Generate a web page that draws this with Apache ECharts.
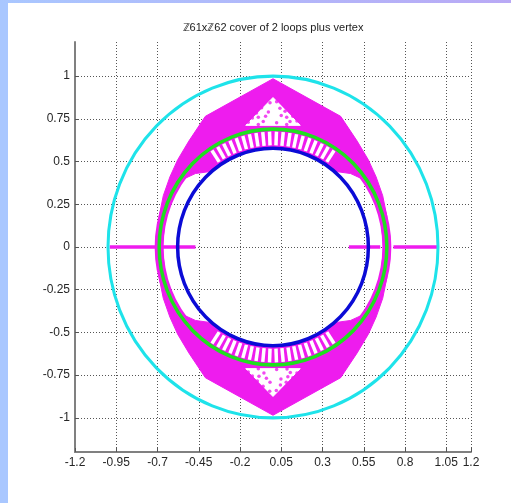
<!DOCTYPE html>
<html>
<head>
<meta charset="utf-8">
<script src="https://cdn.jsdelivr.net/npm/echarts@6/dist/echarts.min.js"></script>
<style>
  html, body { margin: 0; padding: 0; background: #fff; }
  #chart { width: 511px; height: 503px; }
</style>
</head>
<body>
<div id="chart"></div>
<script>
const xTicks = [-1.2, -0.95, -0.7, -0.45, -0.2, 0.05, 0.3, 0.55, 0.8, 1.05, 1.2];
const yTicks = [-1, -0.75, -0.5, -0.25, 0, 0.25, 0.5, 0.75, 1];

// circles as [cx, cy, r]
const cyanCircle = [0, 0, 1.0];
const greenCircle = [0, 0, 0.69];
const blueCircle = [0, 0, 0.578];

// magenta cloud outlines
const lobeTop = [
  [-0.705, 0.06], [-0.69, 0.18], [-0.665, 0.30], [-0.625, 0.41], [-0.578, 0.51], [-0.51, 0.62],
  [-0.41, 0.765], [0, 0.985], [0.41, 0.765], [0.51, 0.62], [0.578, 0.51], [0.625, 0.41],
  [0.665, 0.30], [0.69, 0.18], [0.705, 0.06],
  [0.665, 0.06], [0.65, 0.18], [0.615, 0.30], [0.56, 0.39], [0.47, 0.43], [0.372, 0.443], [0.289, 0.501],
  [0.198, 0.543], [0.100, 0.569], [0, 0.578], [-0.100, 0.569], [-0.198, 0.543], [-0.289, 0.501],
  [-0.372, 0.443], [-0.47, 0.43], [-0.56, 0.39], [-0.615, 0.30], [-0.65, 0.18], [-0.665, 0.06]
];
const lobeBottom = [
  [-0.705, -0.06], [-0.69, -0.18], [-0.665, -0.30], [-0.625, -0.41], [-0.578, -0.51], [-0.51, -0.62],
  [-0.41, -0.765], [0, -0.985], [0.41, -0.765], [0.51, -0.62], [0.578, -0.51], [0.625, -0.41],
  [0.665, -0.30], [0.69, -0.18], [0.705, -0.06],
  [0.665, -0.06], [0.65, -0.18], [0.615, -0.30], [0.56, -0.39], [0.47, -0.43], [0.372, -0.443], [0.289, -0.501],
  [0.198, -0.543], [0.100, -0.569], [0, -0.578], [-0.100, -0.569], [-0.198, -0.543], [-0.289, -0.501],
  [-0.372, -0.443], [-0.47, -0.43], [-0.56, -0.39], [-0.615, -0.30], [-0.65, -0.18], [-0.665, -0.06]
];
const holeTop = [[0, 0.875], [-0.165, 0.712], [0.165, 0.712]];
const holeBottom = [[0, -0.875], [-0.165, -0.712], [0.165, -0.712]];

// white gaps between the magenta spokes (x1, y1, x2, y2)
const spokeGaps = [
  [0.018, 0.595, 0.021, 0.675], [-0.018, 0.595, -0.021, 0.675],
  [0.054, 0.592, 0.062, 0.672], [-0.054, 0.592, -0.062, 0.672],
  [0.091, 0.588, 0.103, 0.667], [-0.091, 0.588, -0.103, 0.667],
  [0.126, 0.581, 0.143, 0.660], [-0.126, 0.581, -0.143, 0.660],
  [0.161, 0.573, 0.183, 0.650], [-0.161, 0.573, -0.183, 0.650],
  [0.196, 0.562, 0.223, 0.637], [-0.196, 0.562, -0.223, 0.637],
  [0.230, 0.549, 0.261, 0.622], [-0.230, 0.549, -0.261, 0.622],
  [0.263, 0.534, 0.299, 0.605], [-0.263, 0.534, -0.299, 0.605],
  [0.295, 0.517, 0.335, 0.586], [-0.295, 0.517, -0.335, 0.586],
  [0.326, 0.498, 0.370, 0.565], [-0.326, 0.498, -0.370, 0.565],
  [0.018, -0.595, 0.021, -0.675], [-0.018, -0.595, -0.021, -0.675],
  [0.054, -0.592, 0.062, -0.672], [-0.054, -0.592, -0.062, -0.672],
  [0.091, -0.588, 0.103, -0.667], [-0.091, -0.588, -0.103, -0.667],
  [0.126, -0.581, 0.143, -0.660], [-0.126, -0.581, -0.143, -0.660],
  [0.161, -0.573, 0.183, -0.650], [-0.161, -0.573, -0.183, -0.650],
  [0.196, -0.562, 0.223, -0.637], [-0.196, -0.562, -0.223, -0.637],
  [0.230, -0.549, 0.261, -0.622], [-0.230, -0.549, -0.261, -0.622],
  [0.263, -0.534, 0.299, -0.605], [-0.263, -0.534, -0.299, -0.605],
  [0.295, -0.517, 0.335, -0.586], [-0.295, -0.517, -0.335, -0.586],
  [0.326, -0.498, 0.370, -0.565], [-0.326, -0.498, -0.370, -0.565]
];

// isolated points inside the holes
const holeDots = [
  [-0.018, 0.845], [0.022, 0.850], [-0.069, 0.815], [0.042, 0.812], [0.073, 0.795], [-0.100, 0.785],
  [-0.028, 0.790], [-0.125, 0.755], [-0.089, 0.760], [0.083, 0.760], [0.120, 0.765], [-0.150, 0.730],
  [-0.059, 0.735], [0.022, 0.727], [0.103, 0.735], [0.145, 0.738], [-0.089, 0.717], [0.083, 0.717],
  [-0.045, 0.765], [0.050, 0.770],
  [-0.020, -0.845], [0.020, -0.840], [-0.060, -0.815], [0.045, -0.808], [0.080, -0.792], [-0.095, -0.785],
  [-0.018, -0.792], [-0.125, -0.755], [-0.085, -0.756], [0.090, -0.760], [0.120, -0.765], [-0.150, -0.732],
  [-0.055, -0.738], [0.022, -0.717], [0.105, -0.735], [0.145, -0.738], [-0.089, -0.712], [0.085, -0.714],
  [-0.040, -0.768], [0.048, -0.772]
];

// real-axis pieces of the cover
const realSegments = [
  [-0.99, 0, -0.47, 0],
  [0.46, 0, 0.65, 0],
  [0.73, 0, 1.0, 0]
];

const MAGENTA = '#ee1cee';

const chart = echarts.init(document.getElementById('chart'));

function ellipseSeries(data, color, width, z) {
  return {
    type: 'custom',
    z: z,
    data: [data],
    encode: { x: 0, y: 1 },
    renderItem: function (params, api) {
      const c = api.coord([api.value(0), api.value(1)]);
      const s = api.size([api.value(2), api.value(2)]);
      return {
        type: 'circle',
        x: c[0],
        y: c[1],
        scaleY: s[1] / s[0],
        shape: { cx: 0, cy: 0, r: s[0] },
        style: { fill: 'none', stroke: color, lineWidth: width }
      };
    }
  };
}

function polygonSeries(points, color, z) {
  return {
    type: 'custom',
    z: z,
    data: [points[0]],
    encode: { x: 0, y: 1 },
    renderItem: function (params, api) {
      return {
        type: 'polygon',
        shape: { points: points.map(function (p) { return api.coord(p); }) },
        style: { fill: color, stroke: color, lineWidth: 1 }
      };
    }
  };
}

function segmentSeries(data, color, width, z) {
  return {
    type: 'custom',
    z: z,
    data: data,
    encode: { x: [0, 2], y: [1, 3] },
    renderItem: function (params, api) {
      const a = api.coord([api.value(0), api.value(1)]);
      const b = api.coord([api.value(2), api.value(3)]);
      return {
        type: 'line',
        shape: { x1: a[0], y1: a[1], x2: b[0], y2: b[1] },
        style: { stroke: color, lineWidth: width }
      };
    }
  };
}

const labelFmt = function (v) { return String(+v.toFixed(2)); };

const axisCommon = {
  type: 'value',
  min: -1.2,
  max: 1.2,
  axisLine: { onZero: false, lineStyle: { color: '#808080', width: 2 } },
  splitLine: { show: true, lineStyle: { color: '#555', width: 1, type: [1, 2] } }
};

const options = {
  animation: false,
  backgroundColor: '#ffffff',
  graphic: [
    { type: 'rect', shape: { x: 0, y: 0, width: 8, height: 503 }, style: { fill: '#a9c7ff' } },
    {
      type: 'rect',
      shape: { x: 0, y: 0, width: 511, height: 3 },
      style: {
        fill: new echarts.graphic.LinearGradient(0, 0, 1, 0, [
          { offset: 0, color: '#a9c7ff' },
          { offset: 1, color: '#b9a9f5' }
        ])
      }
    },
    {
      type: 'text',
      x: 273,
      y: 28,
      style: {
        text: 'ℤ61xℤ62 cover of 2 loops plus vertex',
        textAlign: 'center',
        textVerticalAlign: 'middle',
        font: '11px "Liberation Sans", Arial, sans-serif',
        fill: '#222'
      }
    }
  ],
  grid: { left: 75, right: 40, top: 42, bottom: 51 },
  xAxis: Object.assign({}, axisCommon, {
    interval: 0.25,
    axisTick: { customValues: xTicks, inside: true, length: 4, lineStyle: { color: '#555' } },
    axisLabel: {
      customValues: xTicks,
      formatter: labelFmt,
      color: '#262626',
      fontSize: 12,
      fontFamily: '"Liberation Sans", Arial, sans-serif',
      margin: 5
    }
  }),
  yAxis: Object.assign({}, axisCommon, {
    axisTick: { customValues: yTicks, inside: true, length: 4, lineStyle: { color: '#555' } },
    axisLabel: {
      customValues: yTicks,
      formatter: labelFmt,
      color: '#262626',
      fontSize: 12,
      fontFamily: '"Liberation Sans", Arial, sans-serif',
      margin: 5
    }
  }),
  series: [
    ellipseSeries(greenCircle, MAGENTA, 9, 2),
    polygonSeries(lobeTop, MAGENTA, 3),
    polygonSeries(lobeBottom, MAGENTA, 3),
    polygonSeries(holeTop, '#ffffff', 4),
    polygonSeries(holeBottom, '#ffffff', 4),
    segmentSeries(spokeGaps, '#ffffff', 3.5, 5),
    {
      type: 'scatter',
      z: 6,
      data: holeDots,
      symbol: 'circle',
      symbolSize: 3.5,
      itemStyle: { color: MAGENTA }
    },
    segmentSeries(realSegments, MAGENTA, 3.5, 6),
    ellipseSeries(cyanCircle, '#1ee3ea', 3, 7),
    ellipseSeries(greenCircle, '#1fe01f', 3.5, 8),
    ellipseSeries(blueCircle, '#0b0bd6', 3.5, 9)
  ]
};

chart.setOption(options);
</script>
</body>
</html>
